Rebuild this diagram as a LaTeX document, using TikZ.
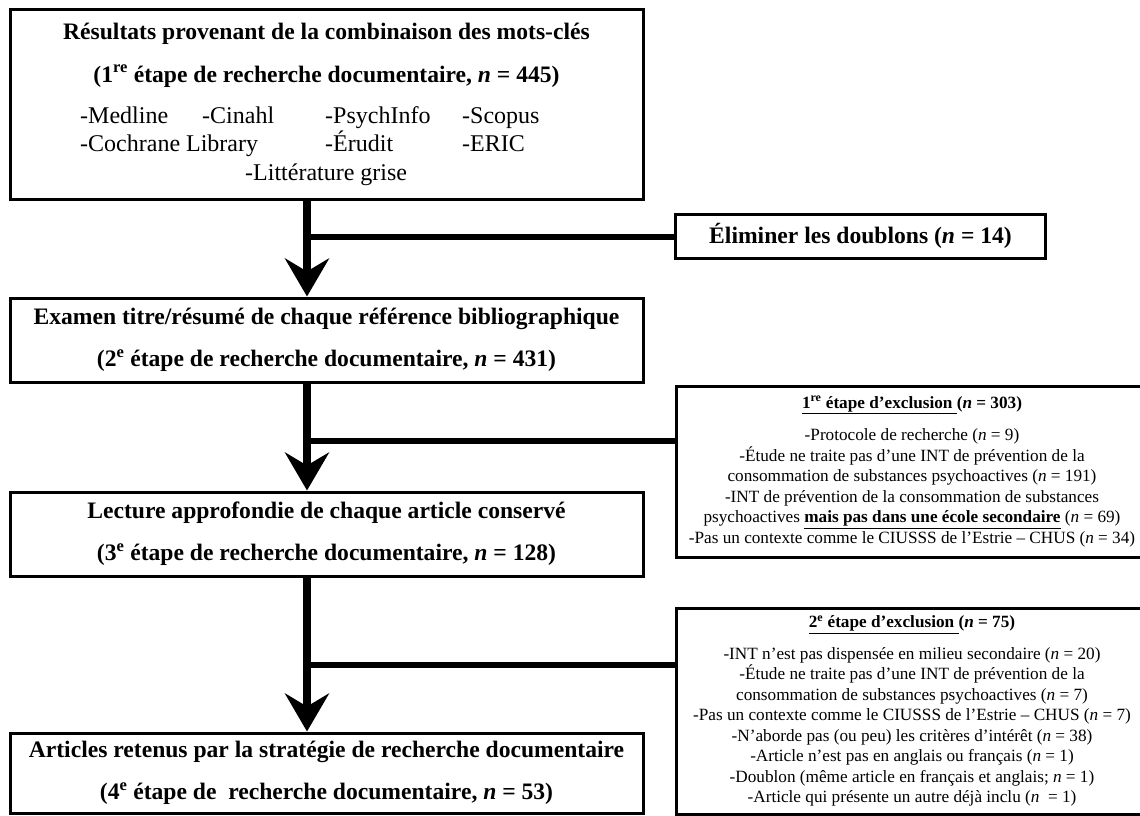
\documentclass[tikz,border=0pt]{standalone}
\usepackage{fontspec}
\setmainfont{Liberation Serif}
\usetikzlibrary{arrows.meta}
\tikzset{
  mainbox/.style={draw, line width=3pt, inner sep=0pt, align=center,
    font=\fontsize{23.6}{42}\selectfont\bfseries},
  titletext/.style={anchor=base, inner sep=0pt, font=\fontsize{23.6}{28}\selectfont\bfseries},
  listtext/.style={anchor=base west, inner sep=0pt, font=\fontsize{24}{28}\selectfont},
  exbox/.style={draw, line width=3pt, inner sep=0pt, align=center,
    font=\fontsize{17.2}{20.5}\selectfont},
  flow/.style={line width=8pt, -{Stealth[length=38pt,width=44pt,inset=13pt]}},
  branch/.style={line width=6pt},
}
\begin{document}
\begin{tikzpicture}[x=1pt,y=-1pt]
\clip (0,0) rectangle (1140,816);
\fill[white] (0,0) rectangle (1140,816);

% main boxes
\node[mainbox, minimum width=633pt, minimum height=189pt] (b1) at (326.5,104.5) {};
\node[titletext] (t1a) at (326.5,40) {Résultats provenant de la combinaison des mots-clés};
\node[titletext] (t1b) at (326.5,82) {(1\textsuperscript{re} étape de recherche documentaire, \textit{n} = 445)};
\node[listtext] (l1) at (80,123) {-Medline};
\node[listtext] (l2) at (202,123) {-Cinahl};
\node[listtext] (l3) at (325,123) {-PsychInfo};
\node[listtext] (l4) at (462,123) {-Scopus};
\node[listtext] (l5) at (80,151.5) {-Cochrane Library};
\node[listtext] (l6) at (325,151.5) {-Érudit};
\node[listtext] (l7) at (462,151.5) {-ERIC};
\node[listtext] (l8) at (245,180) {-Littérature grise};

\node[mainbox, minimum width=633pt, minimum height=84pt] (b2) at (326.5,340)
  {Examen titre/résumé de chaque référence bibliographique\\(2\textsuperscript{e} étape de recherche documentaire, \textit{n} = 431)};
\node[mainbox, minimum width=633pt, minimum height=84pt] (b3) at (326.5,534)
  {Lecture approfondie de chaque article conservé\\(3\textsuperscript{e} étape de recherche documentaire, \textit{n} = 128)};
\node[mainbox, minimum width=633pt, minimum height=80pt] (b4) at (326.5,773)
  {Articles retenus par la stratégie de recherche documentaire\\(4\textsuperscript{e} étape de\ \ recherche documentaire, \textit{n} = 53)};

% side boxes
\node[mainbox, minimum width=370pt, minimum height=44pt] (elim) at (860.5,236)
  {Éliminer les doublons (\textit{n} = 14)};

\node[exbox, minimum width=472pt, minimum height=171pt] (exA) at (912,471.5)
  {\textbf{\underline{1\textsuperscript{re} étape d’exclusion\ }(\textit{n} = 303)}\\[12pt]
   -Protocole de recherche (\textit{n} = 9)\\
   -Étude ne traite pas d’une INT de prévention de la\\
   consommation de substances psychoactives (\textit{n} = 191)\\
   -INT de prévention de la consommation de substances\\
   psychoactives \textbf{\underline{mais pas dans une école secondaire}} (\textit{n} = 69)\\
   -Pas un contexte comme le CIUSSS de l’Estrie – CHUS (\textit{n} = 34)};

\node[exbox, minimum width=472pt, minimum height=206pt] (exB) at (912,711)
  {\textbf{\underline{2\textsuperscript{e} étape d’exclusion\ }(\textit{n} = 75)}\\[11pt]
   -INT n’est pas dispensée en milieu secondaire (\textit{n} = 20)\\
   -Étude ne traite pas d’une INT de prévention de la\\
   consommation de substances psychoactives (\textit{n} = 7)\\
   -Pas un contexte comme le CIUSSS de l’Estrie – CHUS (\textit{n} = 7)\\
   -N’aborde pas (ou peu) les critères d’intérêt (\textit{n} = 38)\\
   -Article n’est pas en anglais ou français (\textit{n} = 1)\\
   -Doublon (même article en français et anglais; \textit{n} = 1)\\
   -Article qui présente un autre déjà inclu (\textit{n}\ \ = 1)};

% connectors
\coordinate (ax) at (307,0);
\coordinate (j1) at (307,237);
\coordinate (j2) at (307,441);
\coordinate (j3) at (307,665);
\draw[branch] (j1) -- (elim.west |- j1);
\draw[branch] (j2) -- (exA.west |- j2);
\draw[branch] (j3) -- (exB.west |- j3);
\draw[flow] (b1.south -| ax) -- (b2.north -| ax);
\draw[flow] (b2.south -| ax) -- (b3.north -| ax);
\draw[flow] (b3.south -| ax) -- (b4.north -| ax);
\end{tikzpicture}
\end{document}
